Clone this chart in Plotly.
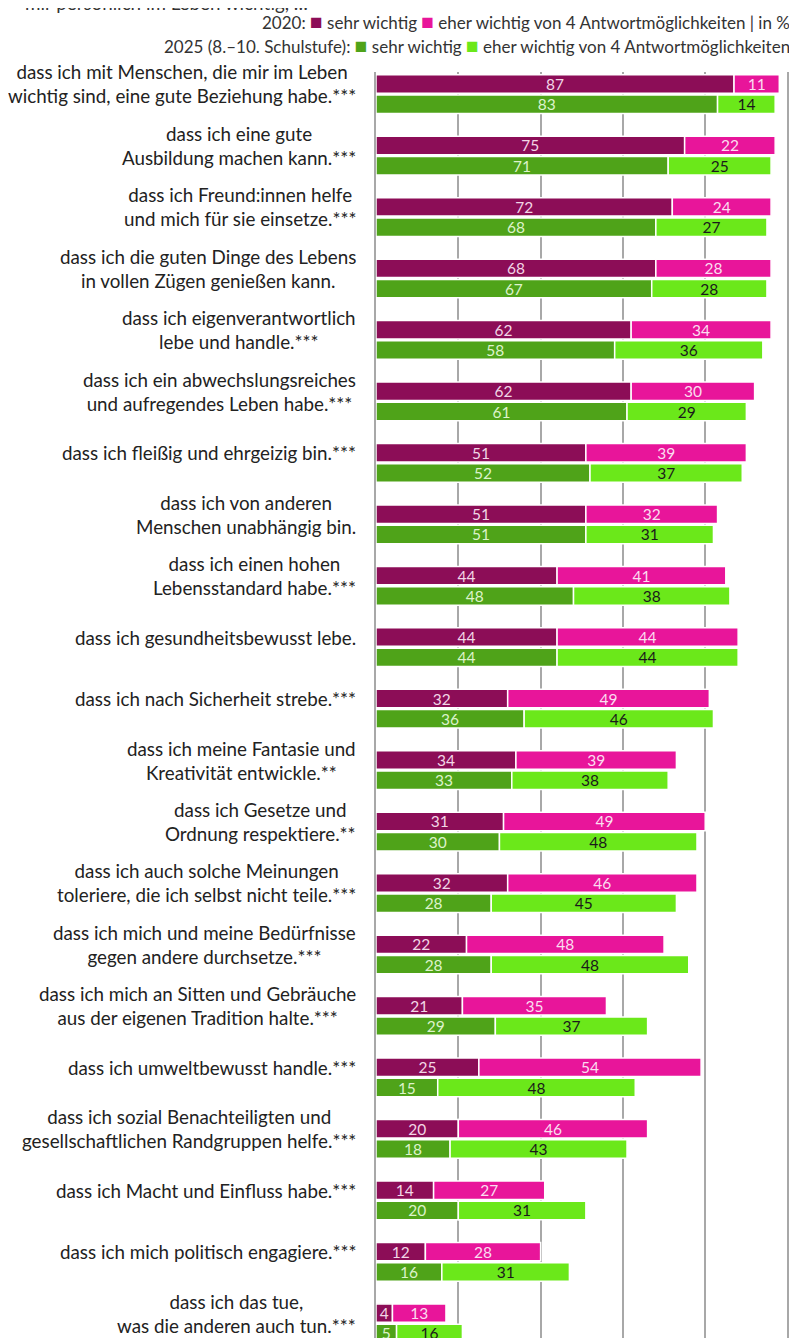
import numpy as np
import plotly.graph_objects as go

# Aussagen (von oben nach unten)
aussagen = [
    "dass ich mit Menschen, die mir im Leben<br>wichtig sind, eine gute Beziehung habe.***",
    "dass ich eine gute<br>Ausbildung machen kann.***",
    "dass ich Freund:innen helfe<br>und mich für sie einsetze.***",
    "dass ich die guten Dinge des Lebens<br>in vollen Zügen genießen kann.",
    "dass ich eigenverantwortlich<br>lebe und handle.***",
    "dass ich ein abwechslungsreiches<br>und aufregendes Leben habe.***",
    "dass ich fleißig und ehrgeizig bin.***",
    "dass ich von anderen<br>Menschen unabhängig bin.",
    "dass ich einen hohen<br>Lebensstandard habe.***",
    "dass ich gesundheitsbewusst lebe.",
    "dass ich nach Sicherheit strebe.***",
    "dass ich meine Fantasie und<br>Kreativität entwickle.**",
    "dass ich Gesetze und<br>Ordnung respektiere.**",
    "dass ich auch solche Meinungen<br>toleriere, die ich selbst nicht teile.***",
    "dass ich mich und meine Bedürfnisse<br>gegen andere durchsetze.***",
    "dass ich mich an Sitten und Gebräuche<br>aus der eigenen Tradition halte.***",
    "dass ich umweltbewusst handle.***",
    "dass ich sozial Benachteiligten und<br>gesellschaftlichen Randgruppen helfe.***",
    "dass ich Macht und Einfluss habe.***",
    "dass ich mich politisch engagiere.***",
    "dass ich das tue,<br>was die anderen auch tun.***",
]

# Werte in %
sehr_2020 = [87, 75, 72, 68, 62, 62, 51, 51, 44, 44, 32, 34, 31, 32, 22, 21, 25, 20, 14, 12, 4]
eher_2020 = [11, 22, 24, 28, 34, 30, 39, 32, 41, 44, 49, 39, 49, 46, 48, 35, 54, 46, 27, 28, 13]
sehr_2025 = [83, 71, 68, 67, 58, 61, 52, 51, 48, 44, 36, 33, 30, 28, 28, 29, 15, 18, 20, 16, 5]
eher_2025 = [14, 25, 27, 28, 36, 29, 37, 31, 38, 44, 46, 38, 48, 45, 48, 37, 48, 43, 31, 31, 16]

# Farben
lila = "#8C0D57"
magenta = "#E8159A"
gruen = "#4FA319"
hellgruen = "#6BE81A"

pos = np.arange(1, len(aussagen) + 1)
y_2020 = pos - 0.165
y_2025 = pos + 0.165

fig = go.Figure()


def balken(y, werte, basis, farbe, textfarbe):
    fig.add_trace(go.Bar(
        y=y, x=werte, base=basis, orientation="h",
        width=0.3,
        marker=dict(color=farbe, line=dict(color="white", width=1.5)),
        text=werte, textposition="inside", insidetextanchor="middle",
        textangle=0, constraintext="none",
        textfont=dict(family="Lato", size=15.5, color=textfarbe),
        showlegend=False, hoverinfo="skip",
    ))


balken(y_2020, sehr_2020, [0] * len(sehr_2020), lila, "#F2D6E6")
balken(y_2020, eher_2020, sehr_2020, magenta, "#FBDDF0")
balken(y_2025, sehr_2025, [0] * len(sehr_2025), gruen, "#DDF3CB")
balken(y_2025, eher_2025, sehr_2025, hellgruen, "#1A1A1A")

# Beschriftungen links
for y, txt in zip(y_2020, aussagen):
    fig.add_annotation(
        x=0, xref="paper", xanchor="right", xshift=-18,
        y=y, yref="y", yanchor="middle",
        text=txt, align="center", showarrow=False,
        font=dict(family="Lato", size=18.8, color="#222222"),
    )

# Legende oben
kasten = "<span style='color:{};font-size:21px'>■</span>"
legende = [
    "2020: " + kasten.format(lila) + " sehr wichtig " + kasten.format(magenta)
    + " eher wichtig von 4 Antwortmöglichkeiten | in %",
    "2025 (8.–10. Schulstufe): " + kasten.format(gruen) + " sehr wichtig "
    + kasten.format(hellgruen) + " eher wichtig von 4 Antwortmöglichkeiten",
]
for i, txt in enumerate(legende):
    fig.add_annotation(
        x=1, xref="paper", xanchor="right", xshift=2,
        y=1, yref="paper", yanchor="middle", yshift=52 - 24 * i,
        text=txt, showarrow=False,
        font=dict(family="Lato", size=17, color="#333333"),
    )

# abgeschnittene Zeile ganz oben
fig.add_annotation(
    x=0, xref="paper", xanchor="right", xshift=-66,
    y=1, yref="paper", yanchor="middle", yshift=70,
    text="mir persönlich im Leben wichtig, …", showarrow=False,
    font=dict(family="Lato", size=18.8, color="#333333"),
)

fig.update_layout(
    width=797, height=1338,
    margin=dict(l=368, r=15, t=64, b=8, autoexpand=False),
    barmode="overlay",
    plot_bgcolor="white", paper_bgcolor="white",
    xaxis=dict(range=[0, 100.6], tickvals=[20, 40, 60, 80, 100],
               showticklabels=False, showgrid=True, gridcolor="#A8A8A8",
               gridwidth=2, zeroline=False, showline=False, fixedrange=True),
    yaxis=dict(range=[21.24, 0.64], showticklabels=False, showgrid=False,
               zeroline=False, showline=True, linecolor="#A8A8A8",
               linewidth=2, fixedrange=True),
)

fig.write_html("out.html")
